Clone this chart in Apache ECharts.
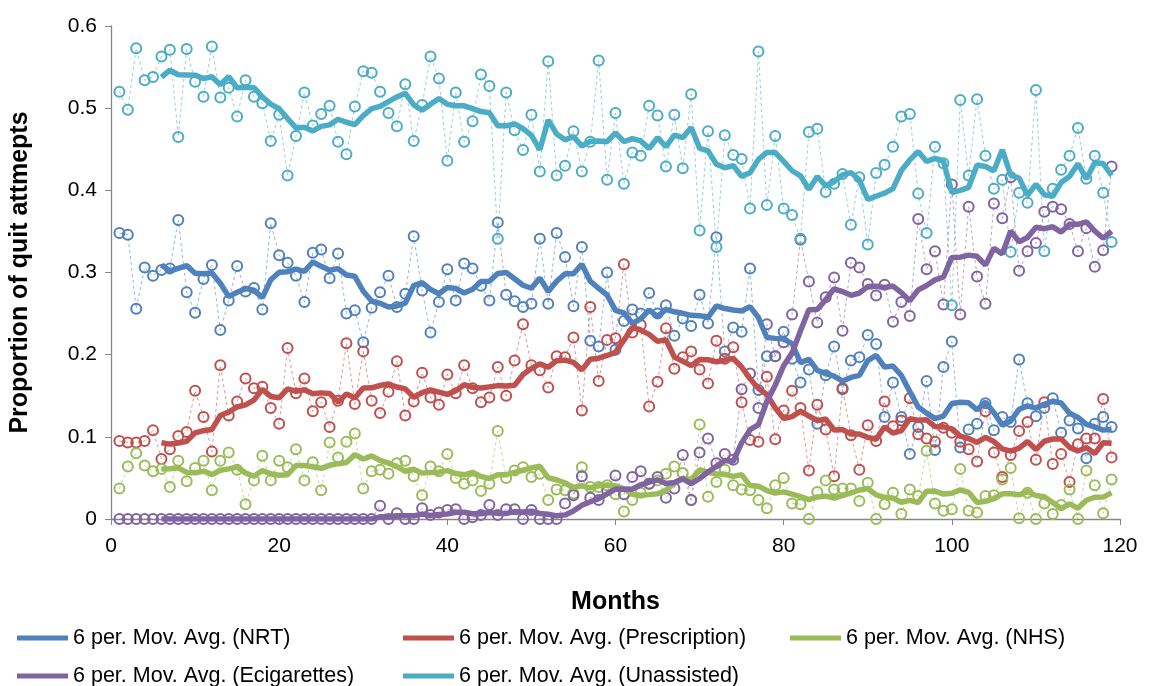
<!DOCTYPE html>
<html>
<head>
<meta charset="utf-8">
<script src="https://cdn.jsdelivr.net/npm/echarts@6/dist/echarts.min.js"></script>
<style>
  html, body { margin: 0; padding: 0; background: #fff; }
  #main { width: 1151px; height: 686px; }
</style>
</head>
<body>
<div id="main"></div>
<script>
// monthly proportions, months 1..119
const nrt = [
  0.348, 0.346, 0.256, 0.306, 0.296, 0.303, 0.305, 0.364, 0.276, 0.251,
  0.292, 0.309, 0.230, 0.266, 0.308, 0.277, 0.281, 0.255, 0.360, 0.321,
  0.312, 0.296, 0.264, 0.324, 0.328, 0.293, 0.323, 0.250, 0.254, 0.215,
  0.257, 0.276, 0.296, 0.258, 0.274, 0.344, 0.278, 0.227, 0.264, 0.304,
  0.266, 0.311, 0.305, 0.284, 0.266, 0.361, 0.273, 0.265, 0.258, 0.262,
  0.341, 0.262, 0.348, 0.319, 0.259, 0.331, 0.217, 0.210, 0.300, 0.206,
  0.241, 0.255, 0.250, 0.275, 0.250, 0.260, 0.223, 0.244, 0.235, 0.273,
  0.238, 0.343, 0.204, 0.233, 0.228, 0.305, 0.157, 0.198, 0.198, 0.228,
  0.195, 0.166, 0.182, 0.116, 0.175, 0.210, 0.158, 0.193, 0.197, 0.224,
  0.213, 0.124, 0.166, 0.124, 0.079, 0.112, 0.168, 0.084, 0.185, 0.216,
  0.087, 0.109, 0.116, 0.141, 0.108, 0.124, 0.118, 0.194, 0.141, 0.125,
  0.135, 0.147, 0.105, 0.120, 0.110, 0.074, 0.116, 0.124, 0.112
]
const prescription = [
  0.095, 0.093, 0.093, 0.095, 0.108, 0.073, 0.085, 0.101, 0.106, 0.156,
  0.124, 0.082, 0.187, 0.126, 0.143, 0.171, 0.159, 0.161, 0.135, 0.116,
  0.208, 0.153, 0.171, 0.131, 0.142, 0.112, 0.144, 0.214, 0.140, 0.204,
  0.144, 0.129, 0.155, 0.192, 0.126, 0.143, 0.178, 0.148, 0.139, 0.176,
  0.153, 0.187, 0.159, 0.142, 0.148, 0.185, 0.150, 0.193, 0.237, 0.187,
  0.181, 0.160, 0.198, 0.197, 0.221, 0.132, 0.258, 0.168, 0.218, 0.220,
  0.310, 0.227, 0.236, 0.137, 0.167, 0.232, 0.183, 0.197, 0.204, 0.182,
  0.165, 0.217, 0.195, 0.209, 0.142, 0.096, 0.094, 0.173, 0.097, 0.132,
  0.156, 0.135, 0.059, 0.139, 0.109, 0.052, 0.159, 0.102, 0.060, 0.114,
  0.095, 0.143, 0.113, 0.120, 0.147, 0.103, 0.098, 0.094, 0.111, 0.105,
  0.094, 0.085, 0.070, 0.131, 0.081, 0.051, 0.078, 0.107, 0.118, 0.072,
  0.142, 0.067, 0.079, 0.045, 0.091, 0.098, 0.098, 0.146, 0.075
]
const nhs = [
  0.037, 0.064, 0.080, 0.065, 0.058, 0.061, 0.039, 0.071, 0.046, 0.062,
  0.071, 0.035, 0.071, 0.081, 0.060, 0.018, 0.047, 0.077, 0.047, 0.071,
  0.063, 0.085, 0.047, 0.069, 0.035, 0.093, 0.075, 0.094, 0.104, 0.037,
  0.058, 0.060, 0.055, 0.068, 0.071, 0.052, 0.029, 0.064, 0.058, 0.079,
  0.050, 0.043, 0.047, 0.034, 0.043, 0.107, 0.050, 0.059, 0.063, 0.051,
  0.055, 0.023, 0.036, 0.035, 0.031, 0.063, 0.039, 0.039, 0.041, 0.030,
  0.009, 0.023, 0.032, 0.043, 0.047, 0.055, 0.064, 0.056, 0.023, 0.115,
  0.027, 0.045, 0.060, 0.041, 0.036, 0.035, 0.023, 0.013, 0.041, 0.050,
  0.019, 0.018, 0.000, 0.033, 0.047, 0.036, 0.037, 0.037, 0.022, 0.044,
  0.000, 0.018, 0.032, 0.006, 0.036, 0.028, 0.083, 0.019, 0.010, 0.012,
  0.061, 0.010, 0.008, 0.028, 0.029, 0.048, 0.062, 0.001, 0.032, 0.000,
  0.019, 0.006, 0.017, 0.036, 0.000, 0.059, 0.041, 0.007, 0.048
]
const ecigarettes = [
  0, 0, 0, 0, 0, 0, 0, 0, 0, 0,
  0, 0, 0, 0, 0, 0, 0, 0, 0, 0,
  0, 0, 0, 0, 0, 0, 0, 0, 0, 0,
  0, 0.016, 0, 0.007, 0, 0, 0.013, 0.005, 0.008, 0.011,
  0.012, 0, 0.002, 0.005, 0.017, 0.005, 0.012, 0.012, 0, 0.011,
  0, 0, 0, 0.019, 0.029, 0.052, 0.026, 0.023, 0.035, 0.053,
  0.030, 0.051, 0.058, 0.043, 0.051, 0.026, 0.037, 0.078, 0.023, 0.081,
  0.098, 0.068, 0.079, 0.072, 0.158, 0.177, 0.135, 0.237, 0.198, 0.215,
  0.249, 0.340, 0.289, 0.239, 0.270, 0.294, 0.229, 0.312, 0.306, 0.286,
  0.272, 0.285, 0.240, 0.264, 0.247, 0.365, 0.304, 0.326, 0.261, 0.407,
  0.249, 0.380, 0.295, 0.262, 0.384, 0.366, 0.416, 0.302, 0.326, 0.336,
  0.374, 0.380, 0.377, 0.359, 0.326, 0.354, 0.307, 0.327, 0.429
]
const unassisted = [
  0.520, 0.498, 0.573, 0.534, 0.538, 0.563, 0.571, 0.465, 0.572, 0.532,
  0.514, 0.575, 0.513, 0.525, 0.490, 0.534, 0.514, 0.506, 0.460, 0.492,
  0.418, 0.466, 0.519, 0.479, 0.493, 0.503, 0.459, 0.444, 0.502, 0.545,
  0.543, 0.520, 0.494, 0.478, 0.529, 0.460, 0.504, 0.563, 0.536, 0.436,
  0.519, 0.459, 0.484, 0.541, 0.527, 0.341, 0.519, 0.473, 0.449, 0.492,
  0.423, 0.557, 0.418, 0.430, 0.472, 0.423, 0.459, 0.558, 0.413, 0.494,
  0.408, 0.446, 0.442, 0.503, 0.491, 0.429, 0.492, 0.427, 0.517, 0.351,
  0.472, 0.331, 0.467, 0.443, 0.438, 0.378, 0.569, 0.382, 0.466, 0.378,
  0.370, 0.341, 0.471, 0.475, 0.398, 0.408, 0.420, 0.358, 0.416, 0.334,
  0.421, 0.431, 0.453, 0.490, 0.493, 0.396, 0.348, 0.453, 0.433, 0.260,
  0.510, 0.418, 0.511, 0.442, 0.402, 0.413, 0.325, 0.397, 0.385, 0.522,
  0.326, 0.402, 0.425, 0.442, 0.476, 0.414, 0.442, 0.397, 0.337
]

const names = ['NRT', 'Prescription', 'NHS', 'Ecigarettes', 'Unassisted']
const colors = ['#4F81BD', '#C0504D', '#9BBB59', '#8064A2', '#4BACC6']
const dashColors = ['rgba(79,129,189,0.6)', 'rgba(192,80,77,0.6)', 'rgba(155,187,89,0.6)', 'rgba(128,100,162,0.6)', 'rgba(75,172,198,0.6)']
const period = 6

const allData = [nrt, prescription, nhs, ecigarettes, unassisted]
const font = 'Liberation Sans, Arial, sans-serif'

// excel style trendline: 6 period moving average
function movingAvg(arr) {
    let out = []
    for (let i = period - 1; i < arr.length; i++) {
        let s = 0
        for (let j = i - period + 1; j <= i; j++) s += arr[j]
        out.push([i + 1, s / period])
    }
    return out
}

let series = []
allData.forEach((arr, k) => {
    series.push({
        name: names[k],
        type: 'line',
        data: arr.map((v, i) => [i + 1, v]),
        symbol: 'circle',
        symbolSize: 10,
        itemStyle: { color: 'rgba(255,255,255,0)', borderColor: colors[k], borderWidth: 2 },
        lineStyle: { color: dashColors[k], width: 1, type: [3, 3] },
        emphasis: { disabled: true },
        silent: true,
        z: 2
    })
})
allData.forEach((arr, k) => {
    series.push({
        name: '6 per. Mov. Avg. (' + names[k] + ')',
        type: 'line',
        data: movingAvg(arr),
        symbol: 'none',
        itemStyle: { color: colors[k] },
        lineStyle: { color: colors[k], width: 5.5 },
        emphasis: { disabled: true },
        silent: true,
        z: 3
    })
})

// one legend per entry so the columns line up like Excel's
const legendPos = [[17, 627], [403, 627], [790, 627], [17, 665], [403, 665]]
let legends = names.map((n, k) => ({
    data: ['6 per. Mov. Avg. (' + n + ')'],
    left: legendPos[k][0],
    top: legendPos[k][1],
    padding: 0,
    icon: 'rect',
    itemWidth: 51,
    itemHeight: 5,
    itemGap: 0,
    textStyle: { fontFamily: font, fontSize: 21.5, color: '#000' },
    selectedMode: false
}))

const chart = echarts.init(document.getElementById('main'))
chart.setOption({
    animation: false,
    backgroundColor: '#fff',
    grid: { left: 110, right: 31, top: 26, bottom: 167 },
    legend: legends,
    xAxis: {
        type: 'value',
        min: 0,
        max: 120,
        interval: 20,
        name: 'Months',
        nameLocation: 'middle',
        nameGap: 71,
        nameTextStyle: { fontFamily: font, fontSize: 25, fontWeight: 'bold', color: '#000' },
        axisLine: { show: true, onZero: false, lineStyle: { color: '#868686', width: 1.3 } },
        axisTick: { show: true, length: 6, lineStyle: { color: '#868686' } },
        axisLabel: { fontFamily: font, fontSize: 21, color: '#000', margin: 17 },
        splitLine: { show: false }
    },
    yAxis: {
        type: 'value',
        min: 0,
        max: 0.6,
        interval: 0.1,
        name: 'Proportion of quit attmepts',
        nameLocation: 'middle',
        nameGap: 78,
        nameTextStyle: { fontFamily: font, fontSize: 25, fontWeight: 'bold', color: '#000' },
        axisLine: { show: true, lineStyle: { color: '#868686', width: 1.3 } },
        axisTick: { show: true, length: 6, lineStyle: { color: '#868686' } },
        axisLabel: { fontFamily: font, fontSize: 21, color: '#000', margin: 14 },
        splitLine: { show: false }
    },
    series: series
})
</script>
</body>
</html>
